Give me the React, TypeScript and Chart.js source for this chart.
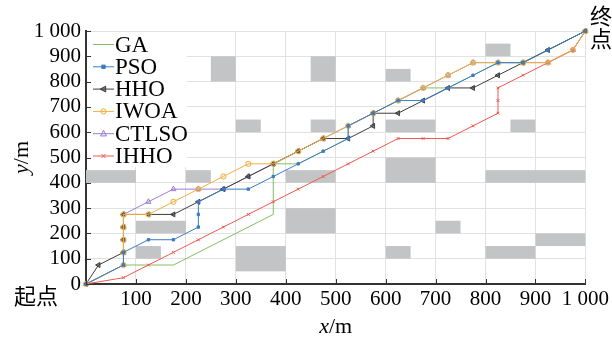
import { useEffect, useRef } from 'react';
import { Chart, registerables } from 'chart.js';

Chart.register(...registerables);

// ---------- data ----------
const xTickValues = [0, 100, 200, 300, 400, 500, 600, 700, 800, 900, 1000];
const xTickLabels = ['', '100', '200', '300', '400', '500', '600', '700', '800', '900', '1 000'];
const yTickValues = [0, 100, 200, 300, 400, 500, 600, 700, 800, 900, 1000];
const yTickLabels = ['0', '100', '200', '300', '400', '500', '600', '700', '800', '900', '1 000'];

const seriesNames = ['GA', 'PSO', 'HHO', 'IWOA', 'CTLSO', 'IHHO'];

const gaPath = [
  [0, 0], [75, 75], [175, 75], [375, 275], [375, 475], [425, 475], [475, 525], [525, 575],
  [525, 625], [575, 675], [625, 725], [675, 775], [725, 775], [775, 825], [825, 875],
  [875, 875], [925, 925], [1000, 1000],
];
const psoPath = [
  [0, 0], [75, 75], [75, 125], [125, 175], [175, 175], [225, 225], [225, 275], [225, 325],
  [275, 375], [325, 375], [375, 425], [425, 475], [475, 525], [525, 575], [525, 625],
  [575, 675], [625, 725], [675, 725], [725, 775], [775, 825], [825, 875], [875, 875],
  [925, 925], [1000, 1000],
];
const hhoPath = [
  [0, 0], [25, 75], [75, 125], [75, 175], [75, 225], [75, 275], [125, 275], [175, 275],
  [225, 325], [275, 375], [325, 425], [375, 475], [425, 525], [475, 575], [525, 575],
  [575, 625], [575, 675], [625, 675], [675, 725], [725, 775], [775, 775], [825, 825],
  [875, 875], [925, 925], [1000, 1000],
];
const iwoaPath = [
  [0, 0], [75, 75], [75, 125], [75, 175], [75, 225], [75, 275], [125, 275], [175, 325],
  [225, 375], [275, 425], [325, 475], [375, 475], [425, 525], [475, 575], [525, 625],
  [575, 675], [625, 725], [675, 775], [725, 825], [775, 875], [825, 875], [875, 875],
  [925, 875], [975, 925], [1000, 1000],
];
const ctlsoPath = [
  [0, 0], [75, 75], [75, 125], [75, 175], [75, 225], [75, 275], [125, 325], [175, 375],
  [225, 375], [275, 375], [325, 425], [375, 475], [425, 525], [475, 575], [525, 625],
  [575, 675], [625, 725], [675, 775], [725, 825], [775, 875], [825, 875], [875, 875],
  [925, 875], [975, 925], [1000, 1000],
];
const ihhoPath = [
  [0, 0], [75, 25], [125, 75], [175, 125], [225, 175], [275, 225], [325, 275], [375, 325],
  [425, 375], [475, 425], [525, 475], [575, 525], [625, 575], [675, 575], [725, 575],
  [775, 625], [825, 675], [825, 725], [825, 775], [875, 825], [925, 875], [975, 925],
  [1000, 1000],
];

// obstacles: [x1, y1, x2, y2]
const obstacles = [
  [250, 800, 300, 900], [450, 800, 500, 900], [600, 800, 650, 850], [800, 900, 850, 950],
  [300, 600, 350, 650], [450, 600, 500, 650], [600, 600, 700, 650], [850, 600, 900, 650],
  [0, 400, 100, 450], [200, 400, 250, 450], [400, 400, 500, 450], [600, 400, 700, 500],
  [800, 400, 1000, 450], [100, 200, 200, 250], [400, 200, 500, 300], [700, 200, 750, 250],
  [100, 100, 150, 150], [300, 50, 400, 150], [600, 100, 650, 150], [800, 100, 900, 150],
  [900, 150, 1000, 200],
];

const startLabel = '起点';
const endLabel = '终点';
const xTitleVar = 'x';
const yTitleVar = 'y';
const unitText = '/m';

// ---------- styles ----------
const SERIF = "'Liberation Serif', 'Times New Roman', serif";
const CJK = "'Noto Sans CJK SC', sans-serif";
const styles = [
  { color: '#84bf62', point: 'none', radius: 0, fill: 'transparent', rotation: 0, order: 6 },
  { color: '#3a7cc2', point: 'rect', radius: 1.7, fill: '#3a7cc2', rotation: 0, order: 1 },
  { color: '#3d3d3d', point: 'triangle', radius: 2.9, fill: 'rgba(61,61,61,0.6)', rotation: -90, order: 3 },
  { color: '#efb03e', point: 'circle', radius: 2.6, fill: 'rgba(239,176,62,0.12)', rotation: 0, order: 2 },
  { color: '#9b7fd2', point: 'triangle', radius: 3, fill: 'rgba(155,127,210,0.15)', rotation: 0, order: 5 },
  { color: '#ee5a50', point: 'crossRot', radius: 2, fill: '#ee5a50', rotation: 0, order: 4 },
];
const paths = [gaPath, psoPath, hhoPath, iwoaPath, ctlsoPath, ihhoPath];

function drawMarker(ctx: CanvasRenderingContext2D, st: any, x: number, y: number) {
  if (st.point === 'none') return;
  ctx.save();
  ctx.strokeStyle = st.color;
  ctx.fillStyle = st.fill;
  ctx.lineWidth = 1;
  ctx.translate(x, y);
  ctx.rotate((st.rotation * Math.PI) / 180);
  const r = st.radius;
  ctx.beginPath();
  if (st.point === 'rect') {
    ctx.rect(-r, -r, 2 * r, 2 * r);
    ctx.fill();
    ctx.stroke();
  } else if (st.point === 'circle') {
    ctx.arc(0, 0, r, 0, Math.PI * 2);
    ctx.fill();
    ctx.stroke();
  } else if (st.point === 'triangle') {
    ctx.moveTo(0, -r * 1.15);
    ctx.lineTo(r, r * 0.75);
    ctx.lineTo(-r, r * 0.75);
    ctx.closePath();
    ctx.fill();
    ctx.stroke();
  } else if (st.point === 'crossRot') {
    ctx.moveTo(-r, -r);
    ctx.lineTo(r, r);
    ctx.moveTo(r, -r);
    ctx.lineTo(-r, r);
    ctx.stroke();
  }
  ctx.restore();
}

const bgPlugin = {
  id: 'bgWhite',
  beforeDraw(chart: any) {
    const ctx = chart.ctx;
    ctx.save();
    ctx.fillStyle = '#ffffff';
    ctx.fillRect(0, 0, chart.width, chart.height);
    ctx.restore();
  },
};

const obstaclePlugin = {
  id: 'obstacles',
  beforeDatasetsDraw(chart: any) {
    const ctx = chart.ctx;
    const xs = chart.scales.x;
    const ys = chart.scales.y;
    ctx.save();
    ctx.fillStyle = '#c3c4c6';
    obstacles.forEach(([x1, y1, x2, y2]) => {
      const px1 = xs.getPixelForValue(x1);
      const px2 = xs.getPixelForValue(x2);
      const py1 = ys.getPixelForValue(y1);
      const py2 = ys.getPixelForValue(y2);
      ctx.fillRect(Math.min(px1, px2), Math.min(py1, py2), Math.abs(px2 - px1), Math.abs(py2 - py1));
    });
    ctx.restore();
  },
};

const overlayPlugin = {
  id: 'overlay',
  afterDatasetsDraw(chart: any) {
    const ctx = chart.ctx;
    const area = chart.chartArea;
    const xs = chart.scales.x;
    const ys = chart.scales.y;
    ctx.save();

    // legend box
    ctx.fillStyle = '#ffffff';
    ctx.fillRect(area.left + 1.5, area.top + 1, 99, 135);
    ctx.font = `23px ${SERIF}`;
    ctx.textBaseline = 'middle';
    ctx.textAlign = 'left';
    seriesNames.forEach((name, i) => {
      const st = styles[i];
      const cy = area.top + 13.5 + i * 22.3;
      ctx.strokeStyle = st.color;
      ctx.lineWidth = 1;
      ctx.beginPath();
      ctx.moveTo(area.left + 7, cy);
      ctx.lineTo(area.left + 28, cy);
      ctx.stroke();
      drawMarker(ctx, st, area.left + 17.5, cy);
      ctx.fillStyle = '#000';
      ctx.fillText(name, area.left + 29, cy + 1);
    });

    // inward ticks
    ctx.strokeStyle = '#333';
    ctx.lineWidth = 1;
    xTickValues.forEach((v) => {
      const px = Math.round(xs.getPixelForValue(v)) + 0.5;
      ctx.beginPath();
      ctx.moveTo(px, area.bottom);
      ctx.lineTo(px, area.bottom - 5);
      ctx.stroke();
    });
    yTickValues.forEach((v) => {
      const py = Math.round(ys.getPixelForValue(v)) + 0.5;
      ctx.beginPath();
      ctx.moveTo(area.left, py);
      ctx.lineTo(area.left + 5, py);
      ctx.stroke();
    });

    // axis titles
    ctx.fillStyle = '#000';
    ctx.textBaseline = 'alphabetic';
    const italic = `italic 22px ${SERIF}`;
    const normal = `22px ${SERIF}`;
    ctx.font = italic;
    const wx = ctx.measureText(xTitleVar).width;
    ctx.font = normal;
    const wu = ctx.measureText(unitText).width;
    const cx = (area.left + area.right) / 2;
    let sx = cx - (wx + wu) / 2;
    ctx.font = italic;
    ctx.fillText(xTitleVar, sx, 333);
    ctx.font = normal;
    ctx.fillText(unitText, sx + wx, 333);

    ctx.save();
    ctx.translate(28, (area.top + area.bottom) / 2);
    ctx.rotate(-Math.PI / 2);
    ctx.font = italic;
    const wy = ctx.measureText(yTitleVar).width;
    sx = -(wy + wu) / 2;
    ctx.fillText(yTitleVar, sx, 0);
    ctx.font = normal;
    ctx.fillText(unitText, sx + wy, 0);
    ctx.restore();

    // start / end labels
    ctx.font = `22px ${CJK}`;
    ctx.textAlign = 'center';
    ctx.textBaseline = 'middle';
    ctx.fillText(startLabel, 36, 296);
    const chars = Array.from(endLabel);
    chars.forEach((c, i) => {
      ctx.fillText(c, 601, 16 + i * 23);
    });

    ctx.restore();
  },
};

export default function App() {
  const canvasRef = useRef<HTMLCanvasElement | null>(null);

  useEffect(() => {
    const canvas = canvasRef.current;
    if (!canvas) return;
    const datasets = paths.map((p, i) => {
      const st = styles[i];
      return {
        label: seriesNames[i],
        data: p.map(([x, y]) => ({ x, y })),
        borderColor: st.color,
        backgroundColor: st.fill,
        borderWidth: 1,
        pointStyle: st.point === 'none' ? false : st.point,
        pointRadius: st.radius,
        pointRotation: st.rotation,
        pointBorderColor: st.color,
        pointBackgroundColor: st.fill,
        pointBorderWidth: 1,
        tension: 0,
        fill: false,
        clip: false as any,
        order: st.order,
      };
    });

    const tickFont = { family: SERIF, size: 21 };
    const chart = new Chart(canvas, {
      type: 'line',
      data: { datasets: datasets as any },
      options: {
        animation: false,
        responsive: false,
        devicePixelRatio: 1,
        layout: { padding: { top: 31, right: 26, left: 0, bottom: 0 } },
        plugins: { legend: { display: false }, tooltip: { enabled: false } },
        scales: {
          x: {
            type: 'linear',
            min: 0,
            max: 1000,
            afterFit: (s: any) => {
              s.height = 54;
            },
            afterBuildTicks: (s: any) => {
              s.ticks = xTickValues.map((v) => ({ value: v }));
            },
            ticks: {
              autoSkip: false,
              maxRotation: 0,
              padding: 3,
              color: '#000',
              font: tickFont,
              callback: (_v: any, i: number) => xTickLabels[i],
            },
            grid: { color: '#e2e2e2', lineWidth: 1, drawTicks: false },
            border: { display: true, color: '#333', width: 2 },
          },
          y: {
            type: 'linear',
            min: 0,
            max: 1000,
            afterFit: (s: any) => {
              s.width = 86;
            },
            afterBuildTicks: (s: any) => {
              s.ticks = yTickValues.map((v) => ({ value: v }));
            },
            ticks: {
              autoSkip: false,
              padding: 5,
              color: '#000',
              font: tickFont,
              callback: (_v: any, i: number) => yTickLabels[i],
            },
            grid: { color: '#e2e2e2', lineWidth: 1, drawTicks: false },
            border: { display: true, color: '#333', width: 2 },
          },
        },
      },
      plugins: [bgPlugin, obstaclePlugin, overlayPlugin],
    });
    return () => chart.destroy();
  }, []);

  return (
    <div style={{ position: 'fixed', left: 0, top: 0, width: 612, height: 338, background: '#fff' }}>
      <canvas ref={canvasRef} width={612} height={338} style={{ width: 612, height: 338, display: 'block' }} />
    </div>
  );
}
